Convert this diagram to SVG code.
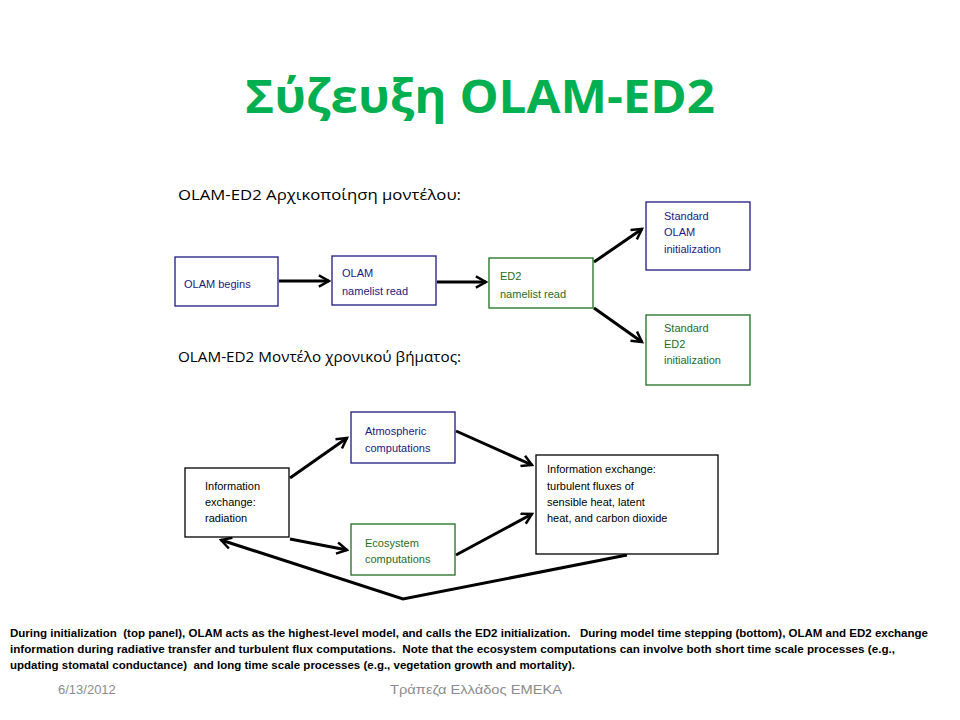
<svg xmlns="http://www.w3.org/2000/svg" width="960" height="720" viewBox="0 0 960 720">
<style>
.t{font-family:"Open Sans","Liberation Sans",sans-serif}
.bx{fill:#fff;stroke-width:1.3}
.nv{stroke:#1a1a80}
.gr{stroke:#1e6e1e}
.bk{stroke:#000}
.lb{font-family:"Liberation Sans","Noto Sans",sans-serif;font-size:11px}
.lnv{fill:#1a1a80}
.lgr{fill:#1e6e1e}
.lbk{fill:#000}
.c{fill:none;stroke:#000;stroke-width:3;marker-end:url(#ah)}
.head{font-family:"Open Sans","Liberation Sans",sans-serif;font-size:14px;fill:#000}
.cap{font-family:"Liberation Sans","Noto Sans",sans-serif;font-size:10.5px;font-weight:bold;fill:#000}
.ft{font-family:"Liberation Sans","Noto Sans",sans-serif;font-size:13px;fill:#8c8c8c}
</style>
<defs>
<marker id="ah" viewBox="0 0 12 12" refX="10" refY="6" markerWidth="4.5" markerHeight="4.5" orient="auto" markerUnits="strokeWidth">
<path d="M1,1 L10,6 L1,11" fill="none" stroke="#000" stroke-width="2.2"/>
</marker>
</defs>
<rect width="960" height="720" fill="#fff"/>
<text class="t" x="480" y="113" text-anchor="middle" font-size="46" font-weight="bold" fill="#00b050" textLength="470" lengthAdjust="spacingAndGlyphs">Σύζευξη OLAM-ED2</text>
<text class="head" x="178" y="200" textLength="283" lengthAdjust="spacingAndGlyphs">OLAM-ED2 Αρχικοποίηση μοντέλου:</text>
<text class="head" x="178" y="362" textLength="283" lengthAdjust="spacingAndGlyphs">OLAM-ED2 Μοντέλο χρονικού βήματος:</text>
<g id="connectors">
<line class="c" x1="279" y1="281" x2="329" y2="281"/>
<line class="c" x1="437" y1="282" x2="486" y2="282"/>
<line class="c" x1="594" y1="262" x2="642" y2="229"/>
<line class="c" x1="594" y1="308" x2="642" y2="342"/>
<line class="c" x1="290" y1="478" x2="347" y2="438"/>
<line class="c" x1="290" y1="539" x2="347" y2="550"/>
<line class="c" x1="456" y1="431" x2="532" y2="465"/>
<line class="c" x1="456" y1="555" x2="532" y2="514"/>
<polyline class="c" points="627,555 403,599 221,540"/>
</g>
<g id="n1"><rect class="bx nv" x="175" y="257" width="103" height="49"/><text class="lb lnv" x="184" y="288">OLAM begins</text></g>
<g id="n2"><rect class="bx nv" x="332" y="256" width="104" height="49"/><text class="lb lnv" x="342" y="277">OLAM</text><text class="lb lnv" x="342" y="295">namelist read</text></g>
<g id="n3"><rect class="bx gr" x="489" y="258" width="104" height="50"/><text class="lb lgr" x="500" y="280">ED2</text><text class="lb lgr" x="500" y="298">namelist read</text></g>
<g id="n4"><rect class="bx nv" x="646" y="202" width="104" height="68"/><text class="lb lnv" x="664" y="220">Standard</text><text class="lb lnv" x="664" y="236">OLAM</text><text class="lb lnv" x="664" y="253">initialization</text></g>
<g id="n5"><rect class="bx gr" x="646" y="315" width="104" height="70"/><text class="lb lgr" x="664" y="332">Standard</text><text class="lb lgr" x="664" y="348">ED2</text><text class="lb lgr" x="664" y="364">initialization</text></g>
<g id="n6"><rect class="bx bk" x="185" y="468" width="104" height="69"/><text class="lb lbk" x="205" y="490">Information</text><text class="lb lbk" x="205" y="506">exchange:</text><text class="lb lbk" x="205" y="522">radiation</text></g>
<g id="n7"><rect class="bx nv" x="351" y="412" width="104" height="51"/><text class="lb lnv" x="365" y="435">Atmospheric</text><text class="lb lnv" x="365" y="452">computations</text></g>
<g id="n8"><rect class="bx gr" x="351" y="524" width="104" height="51"/><text class="lb lgr" x="365" y="547">Ecosystem</text><text class="lb lgr" x="365" y="563">computations</text></g>
<g id="n9"><rect class="bx bk" x="536" y="455" width="182" height="99"/><text class="lb lbk" x="547" y="473">Information exchange:</text><text class="lb lbk" x="547" y="490">turbulent fluxes of</text><text class="lb lbk" x="547" y="506">sensible heat, latent</text><text class="lb lbk" x="547" y="522">heat, and carbon dioxide</text></g>
<text class="cap" x="10" y="637" textLength="918" lengthAdjust="spacingAndGlyphs" xml:space="preserve">During initialization  (top panel), OLAM acts as the highest-level model, and calls the ED2 initialization.   During model time stepping (bottom), OLAM and ED2 exchange</text>
<text class="cap" x="10" y="653" textLength="885" lengthAdjust="spacingAndGlyphs" xml:space="preserve">information during radiative transfer and turbulent flux computations.  Note that the ecosystem computations can involve both short time scale processes (e.g.,</text>
<text class="cap" x="10" y="669" textLength="565" lengthAdjust="spacingAndGlyphs" xml:space="preserve">updating stomatal conductance)  and long time scale processes (e.g., vegetation growth and mortality).</text>
<text class="ft" x="58" y="694">6/13/2012</text>
<text class="ft" x="390" y="694" textLength="172" lengthAdjust="spacingAndGlyphs">Τράπεζα Ελλάδος ΕΜΕΚΑ</text>
</svg>
